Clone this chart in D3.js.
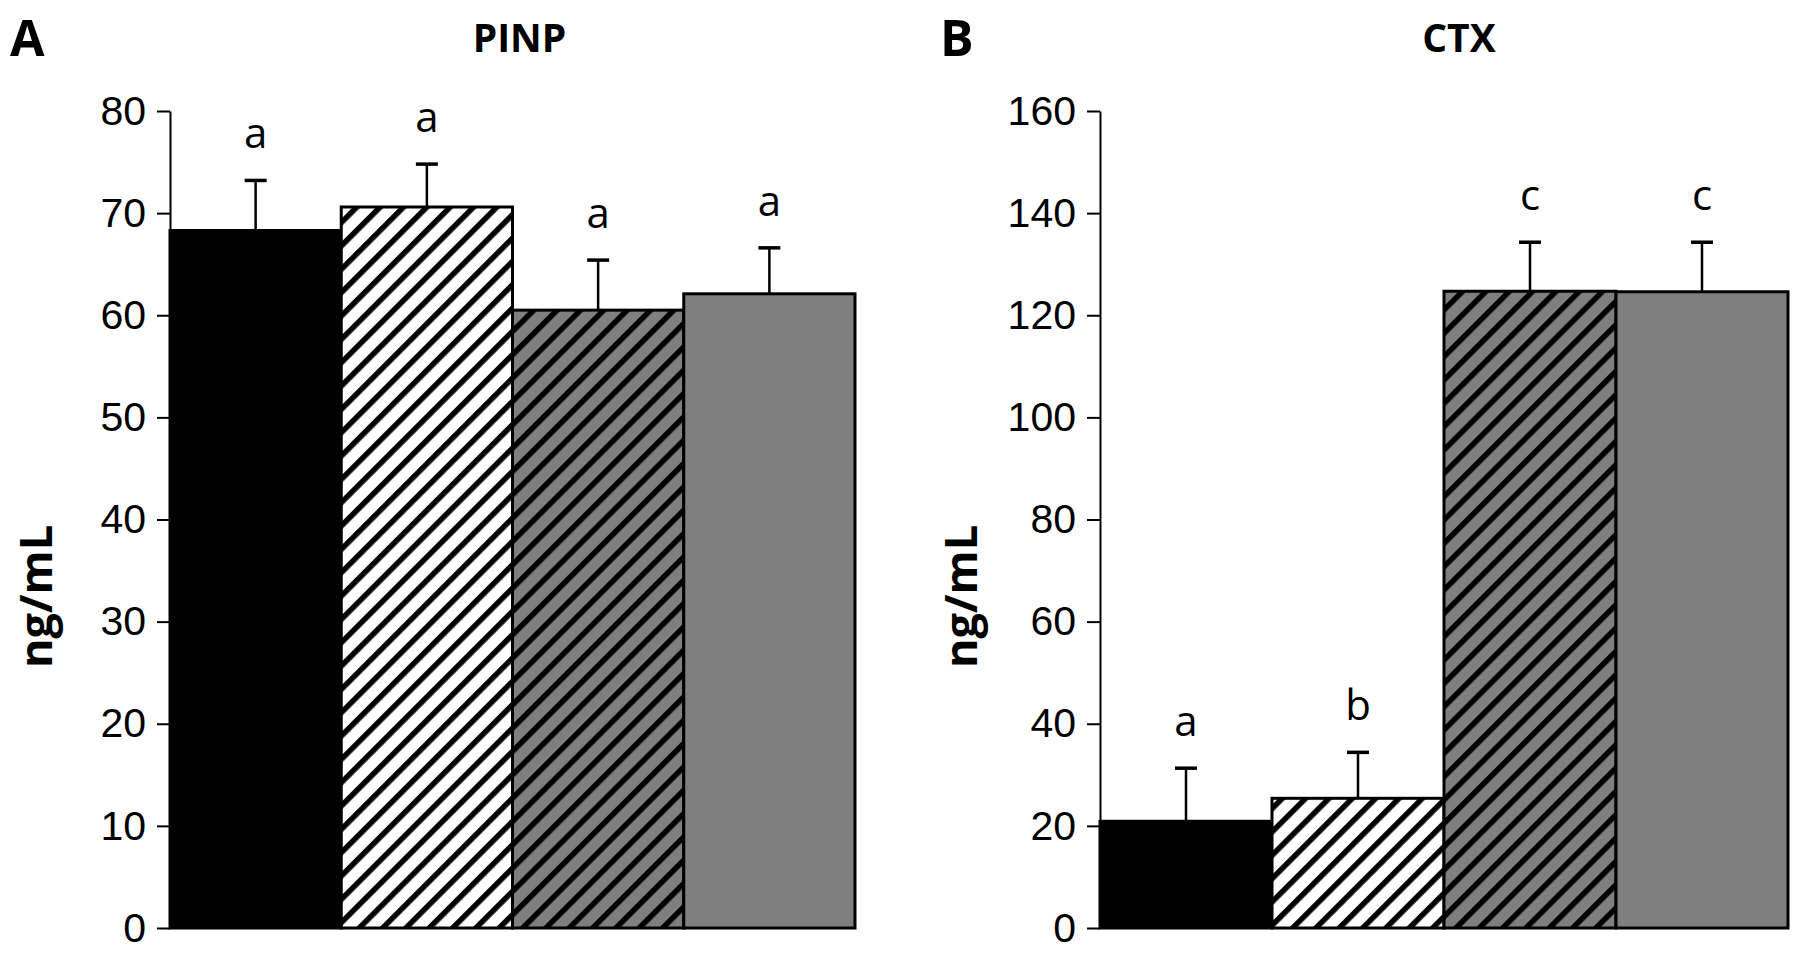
<!DOCTYPE html>
<html>
<head>
<meta charset="utf-8">
<script src="https://cdn.jsdelivr.net/npm/d3@7"></script>
<style>
  html, body { margin: 0; padding: 0; background: #fff; }
  svg { display: block; }
</style>
</head>
<body>
<svg id="chart" width="1800" height="954"></svg>
<script>
// ---- data ----
const groups = ["G1", "G2", "G3", "G4"];
const fills = ["black", "hatchWhite", "hatchGray", "gray"];

const pinpMeans = [68.3, 70.6, 60.5, 62.1];
const pinpErr   = [4.9, 4.2, 4.9, 4.5];
const pinpLetters = ["a", "a", "a", "a"];
const pinpTicks = [0, 10, 20, 30, 40, 50, 60, 70, 80];

const ctxMeans = [20.9, 25.4, 124.7, 124.6];
const ctxErr   = [10.4, 9.0, 9.6, 9.7];
const ctxLetters = ["a", "b", "c", "c"];
const ctxTicks = [0, 20, 40, 60, 80, 100, 120, 140, 160];

const panels = [
  { tag: "A", title: "PINP", means: pinpMeans, err: pinpErr, letters: pinpLetters, ticks: pinpTicks, max: 80,
    x0: 170, x1: 855, tagX: 10, labelX: 52, titleOff: 7 },
  { tag: "B", title: "CTX", means: ctxMeans, err: ctxErr, letters: ctxLetters, ticks: ctxTicks, max: 160,
    x0: 1100, x1: 1788, tagX: 940, labelX: 977, titleOff: 15 }
];

const svg = d3.select("#chart");
const defs = svg.append("defs");

function hatch(id, bg) {
  const p = defs.append("pattern")
    .attr("id", id)
    .attr("patternUnits", "userSpaceOnUse")
    .attr("width", 16.5).attr("height", 16.5)
    .attr("patternTransform", "rotate(45)");
  p.append("rect").attr("width", 16.5).attr("height", 16.5).attr("fill", bg);
  p.append("rect").attr("x", 0).attr("width", 5.5).attr("height", 16.5).attr("fill", "#000");
}
hatch("hatchWhite", "#fff");
hatch("hatchGray", "#7f7f7f");

const fillOf = f => f === "black" ? "#000" : f === "gray" ? "#7f7f7f" : `url(#${f})`;

const yTop = 111, yBot = 928;

panels.forEach(P => {
  const g = svg.append("g");
  const x = d3.scaleBand().domain(groups).range([P.x0, P.x1]).padding(0);
  const y = d3.scaleLinear().domain([0, P.max]).range([yBot, yTop]);

  // bars
  g.selectAll("rect.bar").data(groups).join("rect")
    .attr("class", "bar")
    .attr("x", d => x(d))
    .attr("y", (d, i) => y(P.means[i]))
    .attr("width", x.bandwidth())
    .attr("height", (d, i) => y(0) - y(P.means[i]))
    .attr("fill", (d, i) => fillOf(fills[i]))
    .attr("stroke", "#000")
    .attr("stroke-width", 3);

  // error bars
  const eb = g.selectAll("g.err").data(groups).join("g").attr("class", "err");
  eb.append("line")
    .attr("x1", d => x(d) + x.bandwidth() / 2)
    .attr("x2", d => x(d) + x.bandwidth() / 2)
    .attr("y1", (d, i) => y(P.means[i]))
    .attr("y2", (d, i) => y(P.means[i] + P.err[i]))
    .attr("stroke", "#000").attr("stroke-width", 2.5);
  eb.append("line")
    .attr("x1", d => x(d) + x.bandwidth() / 2 - 11)
    .attr("x2", d => x(d) + x.bandwidth() / 2 + 11)
    .attr("y1", (d, i) => y(P.means[i] + P.err[i]))
    .attr("y2", (d, i) => y(P.means[i] + P.err[i]))
    .attr("stroke", "#000").attr("stroke-width", 3.5);

  // letters
  g.selectAll("text.letter").data(groups).join("text")
    .attr("class", "letter")
    .attr("x", d => x(d) + x.bandwidth() / 2)
    .attr("y", (d, i) => y(P.means[i] + P.err[i]) - 32)
    .attr("text-anchor", "middle")
    .attr("font-family", "'Open Sans', sans-serif")
    .attr("font-size", 42)
    .text((d, i) => P.letters[i]);

  // y axis
  const ax = g.append("g")
    .attr("transform", `translate(${P.x0},0)`)
    .call(d3.axisLeft(y).tickValues(P.ticks).tickSize(13).tickPadding(11).tickSizeOuter(0));
  ax.select(".domain").attr("stroke", "#000").attr("stroke-width", 2);
  ax.selectAll(".tick line").attr("stroke", "#000").attr("stroke-width", 2);
  ax.selectAll(".tick text")
    .attr("font-family", "'Liberation Sans', Arial, sans-serif")
    .attr("font-size", 41)
    .attr("fill", "#000");

  // y label
  g.append("text")
    .attr("transform", `translate(${P.labelX},${(yTop + yBot) / 2 + 77}) rotate(-90)`)
    .attr("text-anchor", "middle")
    .attr("font-family", "'Open Sans', sans-serif")
    .attr("font-weight", "bold")
    .attr("font-size", 45)
    .text("ng/mL");

  // title
  g.append("text")
    .attr("x", (P.x0 + P.x1) / 2 + P.titleOff)
    .attr("y", 52)
    .attr("text-anchor", "middle")
    .attr("font-family", "'Open Sans', sans-serif")
    .attr("font-weight", "bold")
    .attr("font-size", 39)
    .text(P.title);

  // panel tag
  g.append("text")
    .attr("x", P.tagX)
    .attr("y", 56)
    .attr("font-family", "'Open Sans', sans-serif")
    .attr("font-weight", "bold")
    .attr("font-size", 50)
    .text(P.tag);
});
</script>
</body>
</html>
